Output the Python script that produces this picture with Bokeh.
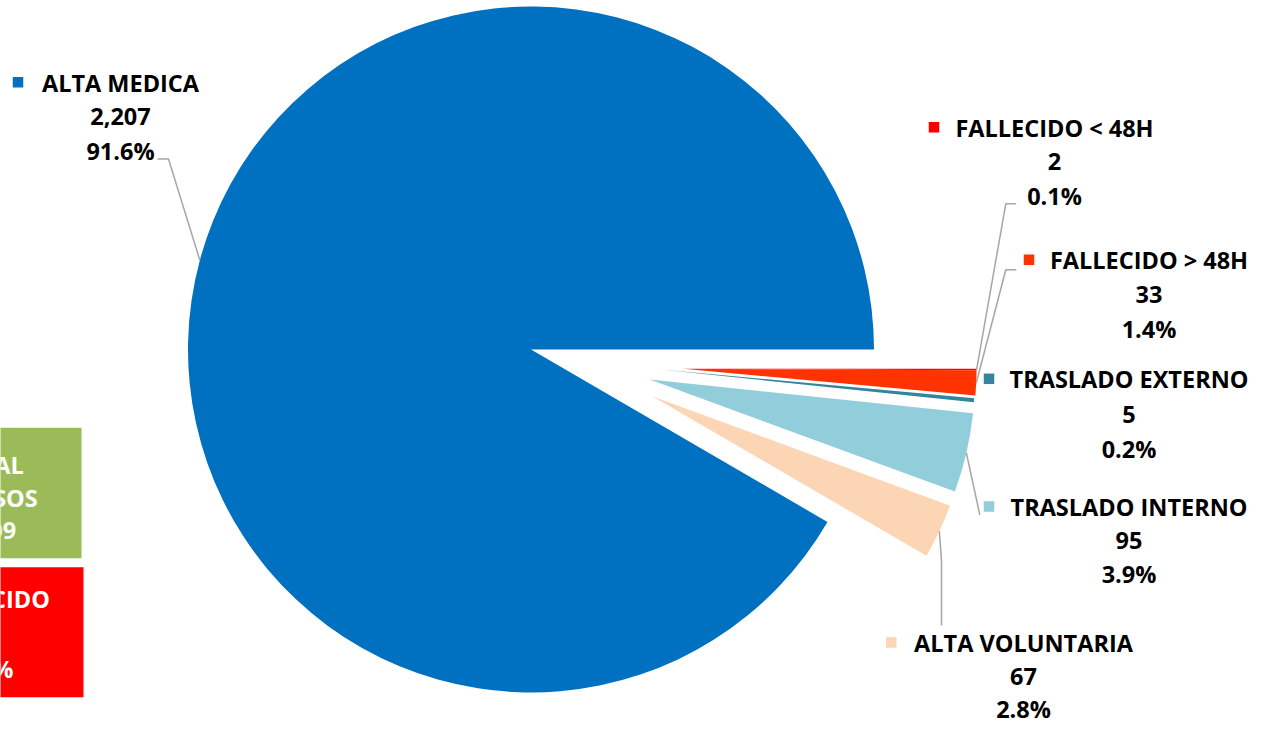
import numpy as np
from bokeh.plotting import figure
from bokeh.models import Range1d, Label
from bokeh.core.properties import value
from bokeh.embed import file_html
from bokeh.resources import INLINE

# ---------------- data ----------------
categories = ["FALLECIDO < 48H", "FALLECIDO > 48H", "TRASLADO EXTERNO",
              "TRASLADO INTERNO", "ALTA VOLUNTARIA", "ALTA MEDICA"]
counts = [2, 33, 5, 95, 67, 2207]
pct_labels = ["0.1%", "1.4%", "0.2%", "3.9%", "2.8%", "91.6%"]
total_box_lines = ["TOTAL", "EGRESOS", "2,409"]
dead_box_lines = ["FALLECIDO", "35", "1.5%"]

# ---------------- style / layout (pixel units of the picture) ----------------
colors = ["#FF0000", "#FF3300", "#31859C", "#92CDDC", "#FCD5B5", "#0070C0"]
W, H = 1250, 724
TXT_DY = 8.5          # correction of the rendered text baseline
def Y(img_y):
    return H - img_y
def YT(img_y):
    return H - img_y + TXT_DY

# apex of each (exploded) slice and its radius
apex_x = [682.7, 682.7, 660.0, 649.3, 651.7, 530.5]
apex_y = [368.3, 368.3, 369.0, 379.0, 395.7, 349.0]
radii = [293.4, 293.4, 315.0, 325.0, 317.3, 343.0]

# label blocks: title left/right, first baseline, line gap
lab_left = [956.0, 1051.0, 1011.0, 1011.0, 913.3, 40.0]
lab_right = [1152.0, 1246.0, 1246.0, 1246.0, 1132.7, 200.0]
lab_base = [135.7, 268.3, 387.3, 515.0, 651.0, 90.7]
lab_gap = [34.0, 34.5, 34.7, 33.4, 33.0, 34.0]
FONT = "Open Sans"
FSIZE = "23.5px"

p = figure(width=W, height=H, output_backend="svg", toolbar_location=None,
           x_range=Range1d(0, W), y_range=Range1d(0, H),
           x_axis_type=None, y_axis_type=None, min_border=0,
           outline_line_color=None, background_fill_color="white",
           border_fill_color="white")
p.grid.visible = False

# ---------------- pie ----------------
total = float(sum(counts))
cum = np.cumsum(counts)
ends = -360.0 * cum / total
starts = np.concatenate([[0.0], ends[:-1]])
for i in range(len(counts)):
    p.wedge(x=apex_x[i], y=Y(apex_y[i]), radius=radii[i],
            start_angle=np.radians(ends[i]), end_angle=np.radians(starts[i]),
            direction="anticlock", fill_color=colors[i], line_color=None)

# ---------------- leader lines ----------------
bis = np.radians((starts + ends) / 2.0)
def arc_pt(i):
    return (apex_x[i] + radii[i] * np.cos(bis[i]), Y(apex_y[i]) + radii[i] * np.sin(bis[i]))

leader_pts = {
    0: [(1015.7, 203.3), (1005.3, 203.3)],
    1: [(1015.7, 269.3), (1005.3, 269.3)],
    3: [(979.3, 514.3)],
    4: [(941.0, 625.0), (941.0, 560.0)],
    5: [(157.0, 158.5), (168.0, 158.5)],
}
xs, ys = [], []
for i, pts in leader_pts.items():
    ax, ay = arc_pt(i)
    xs.append([q[0] for q in pts] + [ax])
    ys.append([Y(q[1]) for q in pts] + [ay])
p.multi_line(xs=xs, ys=ys, line_color="#A6A6A6", line_width=1.5)

# ---------------- data labels ----------------
for i, cat in enumerate(categories):
    cx = (lab_left[i] + lab_right[i]) / 2.0
    b, g = lab_base[i], lab_gap[i]
    p.text(x=[cx, cx, cx], y=[YT(b), YT(b + g), YT(b + 2 * g)],
           text=[cat, f"{counts[i]:,}", pct_labels[i]],
           text_align="center", text_baseline="alphabetic",
           text_font=value(FONT), text_font_style="bold",
           text_font_size=FSIZE, text_color="#000000")
    p.rect(x=lab_left[i] - 22.5, y=Y(b - 9.0), width=10.5, height=10.5,
           fill_color=colors[i], line_color=None)

# ---------------- summary boxes (partly off the left edge) ----------------
box_cx = -14.5
p.quad(left=box_cx - 95, right=81, top=Y(427.3), bottom=Y(557.7),
       fill_color="#9BBB59", line_color=None)
p.quad(left=box_cx - 95, right=83, top=Y(566.7), bottom=Y(696.7),
       fill_color="#FF0000", line_color=None)
for lines, b0, gap in ((total_box_lines, 473.3, 32.4), (dead_box_lines, 606.7, 35.0)):
    for k, t in enumerate(lines):
        p.add_layout(Label(x=box_cx, y=YT(b0 + k * gap), text=t,
                           text_align="center", text_baseline="alphabetic",
                           text_color="white", text_font=FONT,
                           text_font_style="bold", text_font_size=FSIZE))

open("out.html", "w").write(file_html(p, INLINE))
